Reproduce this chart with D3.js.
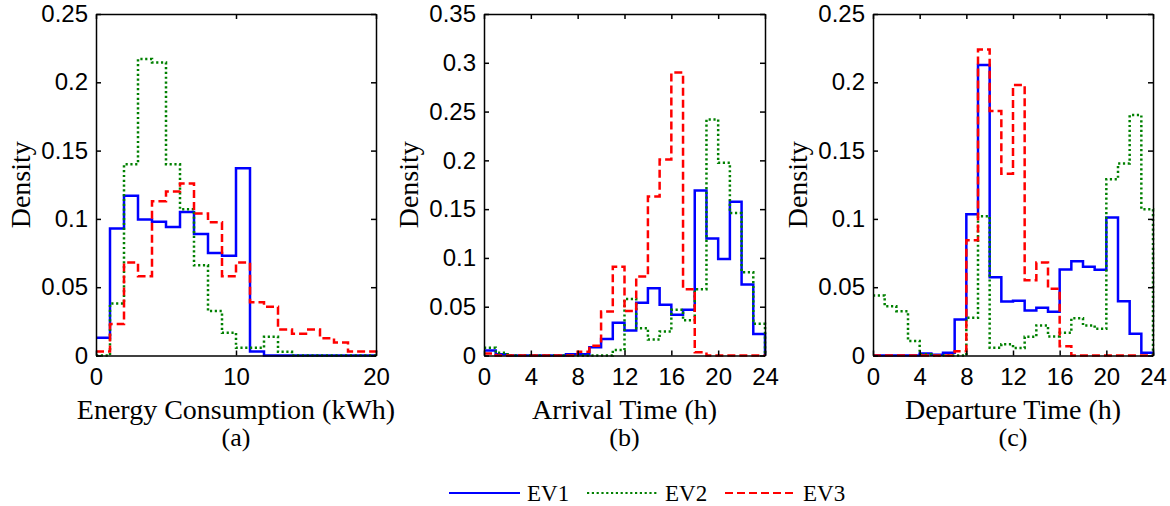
<!DOCTYPE html>
<html>
<head>
<meta charset="utf-8">
<script src="https://cdn.jsdelivr.net/npm/d3@7"></script>
<style>
  body { margin: 0; background: #fff; }
  svg { font-family: "Liberation Serif", "Times New Roman", serif; }
  .axis text { font-size: 24px; fill: #000; }
  .axis path, .axis line { stroke: #000; stroke-width: 1.5; }
</style>
</head>
<body>
<svg id="chart"></svg>
<script>
// bin heights (density), bin width 1 on each x axis
const energyEV1 = [0.013, 0.093, 0.117, 0.0995, 0.098, 0.094, 0.105, 0.089, 0.075, 0.073, 0.137, 0.003, 0, 0, 0, 0, 0, 0, 0, 0];
const energyEV2 = [0, 0.038, 0.14, 0.217, 0.2145, 0.14, 0.107, 0.066, 0.0325, 0.0166, 0.0056, 0.0056, 0.0137, 0.0027, 0, 0, 0, 0, 0, 0];
const energyEV3 = [0.003, 0.023, 0.068, 0.058, 0.113, 0.12, 0.126, 0.104, 0.0975, 0.058, 0.068, 0.039, 0.0357, 0.019, 0.016, 0.019, 0.0127, 0.0095, 0.003, 0.003];

const arrivalEV1 = [0.005, 0.0014, 0, 0, 0, 0, 0, 0.0014, 0.0014, 0.0085, 0.017, 0.0335, 0.0256, 0.054, 0.069, 0.052, 0.0417, 0.047, 0.169, 0.12, 0.099, 0.1576, 0.0728, 0.022];
const arrivalEV2 = [0.008, 0.0027, 0, 0, 0, 0, 0, 0, 0, 0, 0, 0.0056, 0.058, 0.028, 0.0164, 0.0246, 0.047, 0.036, 0.068, 0.242, 0.1975, 0.146, 0.0854, 0.0325];
const arrivalEV3 = [0.002, 0, 0, 0, 0, 0, 0, 0, 0.0038, 0.01, 0.045, 0.091, 0.0455, 0.081, 0.163, 0.201, 0.29, 0.068, 0.0034, 0, 0, 0, 0, 0];

const departEV1 = [0, 0, 0, 0, 0.0015, 0.0005, 0.002, 0.0263, 0.1034, 0.2127, 0.0573, 0.0395, 0.04, 0.033, 0.035, 0.032, 0.063, 0.069, 0.065, 0.0627, 0.101, 0.0398, 0.0159, 0.002];
const departEV2 = [0.0439, 0.036, 0.0324, 0.0107, 0.001, 0, 0, 0, 0.0276, 0.102, 0.0056, 0.0082, 0.0054, 0.0137, 0.022, 0.014, 0.0166, 0.0273, 0.022, 0.0195, 0.129, 0.1405, 0.176, 0.107];
const departEV3 = [0, 0, 0, 0, 0, 0, 0, 0.0032, 0.0844, 0.224, 0.179, 0.133, 0.198, 0.055, 0.068, 0.0488, 0.0068, 0, 0, 0, 0, 0, 0, 0];

const seriesNames = ["EV1", "EV2", "EV3"];
const seriesColors = ["#0000ff", "#008000", "#ff0000"];
const seriesDash = [null, "2.2,2.6", "8,4"];

const energyTicks = [0, 10, 20];
const hourTicks = [0, 4, 8, 12, 16, 20, 24];
const densityTicksA = [0, 0.05, 0.1, 0.15, 0.2, 0.25];
const densityTicksB = [0, 0.05, 0.1, 0.15, 0.2, 0.25, 0.3, 0.35];

const panels = [
  { left: 96,  right: 376,  xMax: 20, xTicks: energyTicks, yTicks: densityTicksA,
    xLabel: "Energy Consumption (kWh)", caption: "(a)", series: [energyEV1, energyEV2, energyEV3] },
  { left: 484, right: 765,  xMax: 24, xTicks: hourTicks, yTicks: densityTicksB,
    xLabel: "Arrival Time (h)", caption: "(b)", series: [arrivalEV1, arrivalEV2, arrivalEV3] },
  { left: 873, right: 1153, xMax: 24, xTicks: hourTicks, yTicks: densityTicksA,
    xLabel: "Departure Time (h)", caption: "(c)", series: [departEV1, departEV2, departEV3] }
];

const width = 1170, height = 506;
const plotTop = 14, plotBottom = 355.5;

const svg = d3.select("#chart").attr("width", width).attr("height", height);

panels.forEach(p => {
  const x = d3.scaleLinear().domain([0, p.xMax]).range([p.left, p.right]);
  const y = d3.scaleLinear().domain([0, d3.max(p.yTicks)]).range([plotBottom, plotTop]);
  const g = svg.append("g");

  // step outlines of the histograms
  const line = d3.line().x(d => x(d[0])).y(d => y(d[1])).curve(d3.curveStepAfter);
  p.series.forEach((vals, i) => {
    const pts = vals.map((v, k) => [k, v]);
    pts.push([vals.length, vals[vals.length - 1]]);
    pts.push([vals.length, 0]);
    g.append("path")
      .attr("d", line(pts))
      .attr("fill", "none")
      .attr("stroke", seriesColors[i])
      .attr("stroke-width", 2.5)
      .attr("stroke-dasharray", seriesDash[i]);
  });

  // box axes with inward ticks
  g.append("g").attr("class", "axis")
    .attr("transform", `translate(0,${plotBottom})`)
    .call(d3.axisBottom(x).tickValues(p.xTicks).tickSizeInner(-5).tickSizeOuter(0).tickPadding(12));
  g.append("g").attr("class", "axis")
    .attr("transform", `translate(0,${plotTop})`)
    .call(d3.axisTop(x).tickValues(p.xTicks).tickSizeInner(-5).tickSizeOuter(0).tickFormat(""));
  g.append("g").attr("class", "axis")
    .attr("transform", `translate(${p.left},0)`)
    .call(d3.axisLeft(y).tickValues(p.yTicks).tickSizeInner(-5).tickSizeOuter(0).tickPadding(8).tickFormat(d => String(d)));
  g.append("g").attr("class", "axis")
    .attr("transform", `translate(${p.right},0)`)
    .call(d3.axisRight(y).tickValues(p.yTicks).tickSizeInner(-5).tickSizeOuter(0).tickFormat(""));

  const cx = (p.left + p.right) / 2;
  g.append("text")
    .attr("x", cx).attr("y", 419)
    .attr("text-anchor", "middle")
    .attr("font-size", 28)
    .text(p.xLabel);
  g.append("text")
    .attr("x", cx).attr("y", 446)
    .attr("text-anchor", "middle")
    .attr("font-size", 26)
    .text(p.caption);
  g.append("text")
    .attr("transform", `translate(${p.left - 66},${(plotTop + plotBottom) / 2}) rotate(-90)`)
    .attr("text-anchor", "middle")
    .attr("font-size", 28)
    .text("Density");
});

// legend
const legendX = [449, 587, 725];
const legend = svg.append("g");
seriesNames.forEach((name, i) => {
  legend.append("line")
    .attr("x1", legendX[i]).attr("x2", legendX[i] + 71)
    .attr("y1", 493).attr("y2", 493)
    .attr("stroke", seriesColors[i])
    .attr("stroke-width", 2)
    .attr("stroke-dasharray", seriesDash[i]);
  legend.append("text")
    .attr("x", legendX[i] + 78).attr("y", 501)
    .attr("font-size", 23)
    .text(name);
});
</script>
</body>
</html>
